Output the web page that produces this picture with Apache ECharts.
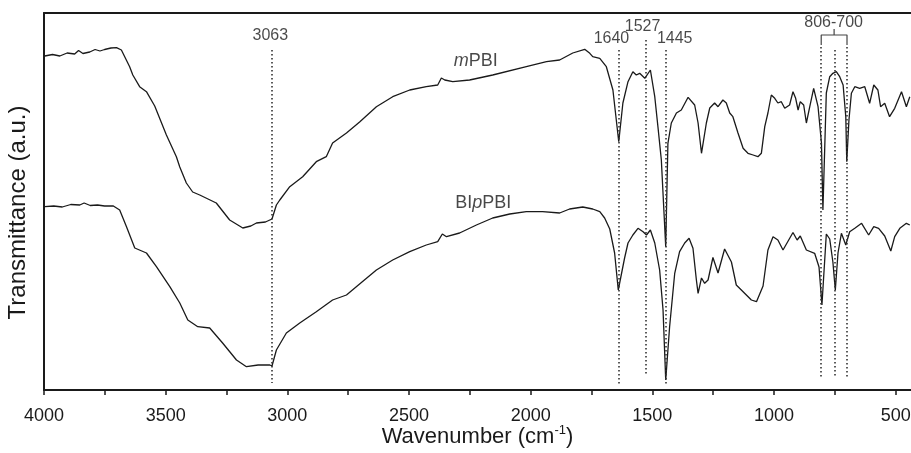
<!DOCTYPE html>
<html>
<head>
<meta charset="utf-8">
<script src="https://cdn.jsdelivr.net/npm/echarts@6/dist/echarts.min.js"></script>
<style>
  html, body { margin: 0; padding: 0; background: #fff; }
  #chart { width: 911px; height: 453px; }
</style>
</head>
<body>
<div id="chart"></div>
<script>
// ---------------- DATA (wavenumber cm^-1, transmittance a.u.) ----------------
const WAVENUMBER_START = 4000;
const WAVENUMBER_END = 437;
const xTickLabels = [4000, 3500, 3000, 2500, 2000, 1500, 1000, 500];

const mPBI = [
  [3997, 334], [3965, 335.5], [3935, 334], [3905, 337], [3874, 336], [3858, 339.5],
  [3840, 336.5], [3812, 338], [3790, 340.5], [3770, 339], [3751, 340.5], [3725, 342],
  [3702, 342.3], [3682, 340], [3648, 323.3], [3635, 315], [3607, 303.3], [3579, 298.3],
  [3545, 284], [3497, 255], [3456, 233.3], [3442, 223], [3415, 207], [3389, 198],
  [3360, 195], [3292, 187], [3237, 170], [3183, 162], [3150, 164], [3127, 167],
  [3090, 168], [3063, 171], [3045, 185], [3031, 190], [2990, 203.3], [2937, 213.3],
  [2881, 228.3], [2840, 233.3], [2814, 247], [2757, 257], [2703, 268], [2634, 283.3],
  [2567, 293.3], [2497, 300], [2429, 303.3], [2382, 305], [2367, 312], [2353, 310],
  [2320, 308.3], [2251, 310], [2156, 315], [2018, 323.3], [1935, 328.3], [1881, 330],
  [1827, 337], [1778, 340.7], [1757, 336.7], [1745, 333.3], [1716, 331.7], [1689, 323.3],
  [1662, 300], [1638, 248.3], [1621, 287], [1600, 308.3], [1580, 318.3], [1566, 315],
  [1552, 316.7], [1531, 311.7], [1508, 320], [1490, 293.3], [1477, 263.3], [1463, 230],
  [1445, 143.3], [1436, 246.7], [1422, 267], [1401, 277], [1381, 280], [1353, 292.7],
  [1326, 285], [1312, 267], [1298, 236.7], [1278, 267], [1264, 282], [1244, 287],
  [1230, 283.3], [1210, 290], [1196, 287], [1182, 277], [1169, 273.3], [1148, 257],
  [1127, 241.7], [1107, 236.7], [1086, 235], [1066, 233.3], [1052, 236.7], [1038, 263.3],
  [1025, 277], [1011, 295], [997, 291.7], [984, 287], [970, 288.3], [956, 281.7],
  [936, 285], [922, 298.3], [911, 291.7], [901, 280], [892, 288.3], [878, 285],
  [867, 267], [853, 283.3], [837, 301.7], [819, 283.3], [805, 247], [799, 180],
  [785, 297], [771, 313.3], [758, 316.7], [744, 318.3], [730, 313.3], [716, 305],
  [705, 273.3], [701, 228.3], [692, 270], [682, 296.7], [668, 303.3], [648, 301.7],
  [627, 303.3], [607, 286.7], [590, 305], [573, 300], [562, 283.3], [545, 286.7],
  [525, 273.3], [504, 281.7], [476, 298.3], [456, 283.3], [442, 293.3]
];

const BIpPBI = [
  [3997, 183.3], [3960, 184], [3925, 183], [3890, 185.5], [3853, 185], [3835, 187],
  [3810, 184.5], [3780, 185], [3751, 184], [3715, 184], [3689, 180], [3661, 163.3],
  [3627, 142], [3579, 137], [3538, 123.3], [3483, 103.3], [3442, 87], [3409, 70],
  [3368, 63.3], [3319, 62], [3266, 47], [3209, 30], [3168, 23.3], [3120, 25],
  [3072, 25], [3063, 24], [3045, 40], [3004, 57], [2949, 67], [2881, 78.3],
  [2814, 90], [2757, 95], [2703, 106], [2634, 120], [2567, 130], [2497, 138.3],
  [2429, 145], [2382, 148.3], [2363, 156], [2346, 153.3], [2292, 157], [2223, 165],
  [2156, 172], [2086, 176], [2018, 178.3], [1951, 178.3], [1881, 177], [1840, 181],
  [1786, 183], [1745, 181], [1716, 178.3], [1696, 172], [1675, 161], [1655, 137],
  [1640, 100], [1614, 132], [1600, 147], [1580, 155], [1559, 161.7], [1538, 158.3],
  [1524, 155], [1508, 160], [1490, 147], [1470, 120], [1456, 80], [1445, 10],
  [1429, 63.3], [1408, 116.7], [1388, 138.3], [1367, 147], [1349, 151.7], [1333, 141.7],
  [1319, 110], [1312, 96.7], [1298, 112], [1285, 106.7], [1271, 110], [1251, 132.5],
  [1230, 117], [1203, 141], [1175, 128], [1155, 105], [1127, 98.3], [1093, 90],
  [1072, 88.3], [1045, 104], [1025, 140], [1004, 153.3], [984, 150], [963, 140],
  [922, 157.5], [905, 150], [892, 154], [867, 140], [833, 136.7], [815, 123],
  [803, 85], [785, 156], [771, 151], [758, 128], [748, 100], [737, 137],
  [723, 156.7], [705, 145], [689, 158.3], [668, 161.7], [640, 166.7], [611, 155],
  [590, 163.3], [570, 161.7], [545, 154], [520, 139], [504, 153.3], [483, 161.7],
  [456, 166.7], [442, 165]
];

const peakLines = [3063, 1640, 1527, 1445, 806, 750, 700];
const peakLabels = ['3063', '1640', '1527', '1445', '806-700'];
const seriesNames = ['mPBI', 'BIpPBI'];

// ---------------- CHART ----------------
const FONT = '"Liberation Sans", Arial, Helvetica, sans-serif';
const INK = '#1a1a1a';
const toX = w => WAVENUMBER_START - w;
const mapSeries = arr => arr.map(p => [toX(p[0]), p[1]]);

// vertical extents of the dotted guide lines (y units)
const lineExtents = {
  3063: [340, 7], 1640: [340, 5], 1527: [350, 15], 1445: [340, 5],
  806: [343, 12], 750: [340, 12], 700: [343, 12]
};
const markLineData = peakLines.map(w => [
  { coord: [toX(w), lineExtents[w][0]] },
  { coord: [toX(w), lineExtents[w][1]] }
]);

// annotation anchors
const annotations = [
  { text: peakLabels[0], at: [3070, 354], size: 16 },
  { text: peakLabels[1], at: [1668, 351], size: 16 },
  { text: peakLabels[2], at: [1540, 363.5], size: 16 },
  { text: peakLabels[3], at: [1408, 351], size: 16 },
  { text: peakLabels[4], at: [755, 367], size: 16 },
  { text: '{i|m}PBI', at: [2226, 329], size: 18 },
  { text: 'BI{i|p}PBI', at: [2195, 187], size: 18 }
];

const chart = echarts.init(document.getElementById('chart'), null, { renderer: 'canvas' });

const commonXAxis = {
  type: 'value', min: 0, max: WAVENUMBER_START - WAVENUMBER_END, interval: 250
};

chart.setOption({
  animation: false,
  backgroundColor: '#ffffff',
  grid: { left: 44, right: 0, top: 13, bottom: 63, containLabel: false, outerBoundsMode: 'none' },
  xAxis: [
    Object.assign({}, commonXAxis, {
      position: 'bottom',
      axisLine: { show: true, lineStyle: { color: INK, width: 2 } },
      axisTick: { show: true, length: 5, inside: false, lineStyle: { color: INK, width: 1.5 } },
      splitLine: { show: false },
      axisLabel: {
        show: true, margin: 17, fontSize: 18, color: INK, fontFamily: FONT,
        showMaxLabel: false,
        formatter: v => {
          const w = WAVENUMBER_START - v;
          return xTickLabels.indexOf(w) >= 0 ? String(w) : '';
        }
      },
      name: 'Wavenumber (cm{sup|-1})',
      nameLocation: 'middle',
      nameGap: 34,
      nameMoveOverlap: false,
      nameTextStyle: {
        fontSize: 22, color: INK, fontFamily: FONT, lineHeight: 26,
        rich: { sup: { fontSize: 13, verticalAlign: 'top', lineHeight: 26, color: INK, fontFamily: FONT } }
      }
    }),
    Object.assign({}, commonXAxis, {
      position: 'top',
      axisLine: { show: true, lineStyle: { color: INK, width: 2 } },
      axisTick: { show: false }, axisLabel: { show: false }, splitLine: { show: false }
    })
  ],
  yAxis: {
    type: 'value', min: 0, max: 377,
    axisLine: { show: true, lineStyle: { color: INK, width: 2 } },
    axisTick: { show: false }, axisLabel: { show: false }, splitLine: { show: false },
    name: 'Transmittance (a.u.)',
    nameLocation: 'middle', nameGap: 14, nameMoveOverlap: false,
    nameTextStyle: { fontSize: 24, color: INK, fontFamily: FONT, padding: [0, 22, 0, 0] }
  },
  series: [
    {
      name: seriesNames[0], type: 'line', data: mapSeries(mPBI),
      showSymbol: false, symbol: 'none', smooth: false,
      lineStyle: { color: INK, width: 1.3 }, z: 3,
      markLine: {
        silent: true, symbol: 'none', label: { show: false },
        lineStyle: { color: '#333', width: 1.6, type: [1.4, 2.6] },
        data: markLineData
      }
    },
    {
      name: seriesNames[1], type: 'line', data: mapSeries(BIpPBI),
      showSymbol: false, symbol: 'none', smooth: false,
      lineStyle: { color: INK, width: 1.3 }, z: 3
    },
    {
      name: 'bracket', type: 'line', symbol: 'none', silent: true,
      data: [[toX(806), 345], [toX(806), 355], [toX(700), 355], [toX(700), 345]],
      lineStyle: { color: '#444', width: 1.2 }, z: 2
    },
    {
      name: 'bracketNotch', type: 'line', symbol: 'none', silent: true,
      data: [[toX(753), 355], [toX(753), 361]],
      lineStyle: { color: '#444', width: 1.2 }, z: 2
    },
    {
      name: 'annotations', type: 'scatter', symbolSize: 0, silent: true, z: 5,
      data: annotations.map(a => ({
        value: [toX(a.at[0]), a.at[1]],
        label: {
          show: true, position: 'inside', formatter: a.text,
          fontSize: a.size, color: INK, fontFamily: FONT, textBorderWidth: 0,
          rich: { i: { fontStyle: 'italic', fontSize: a.size, color: INK, fontFamily: FONT } }
        }
      }))
    }
  ]
});
</script>
</body>
</html>
